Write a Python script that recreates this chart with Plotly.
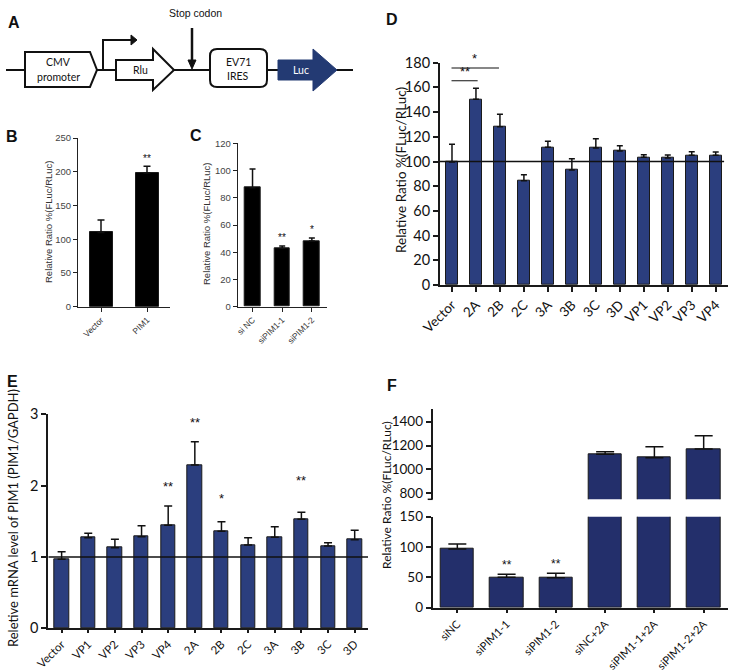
import plotly.graph_objects as go

W, H = 736, 671

def px(x):
    return x / W

def py(y):
    return 1 - y / H

def dom_x(a, b):
    return [px(a), px(b)]

def dom_y(top, bottom):
    return [py(bottom), py(top)]

def path(points, close=True):
    s = "M " + " L ".join(f"{px(x):.5f},{py(y):.5f}" for x, y in points)
    return s + (" Z" if close else "")

# ---------------- data ----------------
b_cats = ["Vector", "PIM1"]
b_vals = [110, 198]
b_err = [18.5, 10]

c_cats = ["si NC", "siPIM1-1", "siPIM1-2"]
c_vals = [87.4, 42.9, 48.3]
c_err = [13.8, 1.7, 2.2]

d_cats = ["Vector", "2A", "2B", "2C", "3A", "3B", "3C", "3D", "VP1", "VP2", "VP3", "VP4"]
d_vals = [99.6, 150.4, 128.2, 84.5, 111.5, 93.1, 110.9, 108.5, 103.4, 102.8, 105.0, 105.0]
d_err = [14.3, 8.9, 10.0, 4.8, 4.8, 9.2, 7.6, 4.3, 2.1, 2.5, 2.9, 2.7]

e_cats = ["Vector", "VP1", "VP2", "VP3", "VP4", "2A", "2B", "2C", "3A", "3B", "3C", "3D"]
e_vals = [0.967, 1.27, 1.13, 1.284, 1.444, 2.29, 1.36, 1.168, 1.276, 1.528, 1.154, 1.242]
e_err = [0.107, 0.062, 0.118, 0.155, 0.271, 0.326, 0.135, 0.102, 0.149, 0.098, 0.046, 0.132]
e_stars = {"VP4": "**", "2A": "**", "2B": "*", "3B": "**"}
e_star_y = {"VP4": 1.86, "2A": 2.75, "2B": 1.69, "3B": 1.94}

f_cats = ["siNC", "siPIM1-1", "siPIM1-2", "siNC+2A", "siPIM1-1+2A", "siPIM1-2+2A"]
f_vals = [96.8, 50.1, 49.5, 1127, 1098, 1171]
f_err = [8.2, 4.9, 7.2, 21.6, 92.5, 111.7]

NAVY = "#2b3e7e"
NAVY_F = "#232f6b"

fig = go.Figure()

def bar(cats, vals, errs, xa, ya, color, width, cap, thick=1.5, lw=1):
    fig.add_trace(go.Bar(
        x=cats, y=vals, xaxis=xa, yaxis=ya, width=width,
        marker=dict(color=color, line=dict(color="#1a1a1a", width=lw)),
        error_y=dict(type="data", array=errs, arrayminus=[0] * len(errs), symmetric=False,
                     color="#111", thickness=thick, width=cap),
        showlegend=False, hoverinfo="skip"))

bar(b_cats, b_vals, b_err, "x", "y", "#000000", 0.5, 3.5)
bar(c_cats, c_vals, c_err, "x2", "y2", "#000000", 0.52, 3)
bar(d_cats, d_vals, d_err, "x3", "y3", NAVY, 0.49, 3)
bar(e_cats, e_vals, e_err, "x4", "y4", NAVY, 0.54, 4)
bar(f_cats, f_vals, f_err, "x5", "y5", NAVY_F, 0.675, 9)
big = [v if v > 700 else None for v in f_vals]
bar(f_cats, big, f_err, "x6", "y6", NAVY_F, 0.675, 9)

ARIAL = "Liberation Sans, Arial"
LATO = "Lato, Open Sans, sans-serif"

def small_axes(dx, dy, rng, dtick, cats):
    xa = dict(domain=dx, type="category", categoryarray=cats, categoryorder="array", automargin=False,
              range=[-0.5, len(cats) - 0.5], showline=True, linecolor="#222", linewidth=1,
              ticks="outside", ticklen=4, tickcolor="#222", tickangle=-45,
              tickfont=dict(family=ARIAL, size=8.5, color="#333"), showgrid=False, zeroline=False,
              fixedrange=True)
    ya = dict(domain=dy, range=rng, dtick=dtick, showline=True, linecolor="#222", linewidth=1,
              automargin=False,
              ticks="outside", ticklen=4, tickcolor="#222",
              tickfont=dict(family=ARIAL, size=9.5, color="#444"), showgrid=False, zeroline=False,
              fixedrange=True)
    return xa, ya

xb, yb = small_axes(dom_x(78, 170), dom_y(138, 306.7), [0, 250], 50, b_cats)
xc, yc = small_axes(dom_x(237.7, 326.7), dom_y(143.3, 306.7), [0, 120], 20, c_cats)
yb["anchor"] = "x"; xb["anchor"] = "y"
yc["anchor"] = "x2"; xc["anchor"] = "y2"

def big_axes(dx, dy, rng, dtick, cats, xfs, yfs):
    xa = dict(domain=dx, type="category", categoryarray=cats, categoryorder="array", automargin=False,
              range=[-0.5, len(cats) - 0.5], showline=True, linecolor="#1a1a1a", linewidth=1.5,
              ticks="outside", ticklen=5, tickwidth=1.5, tickcolor="#1a1a1a", tickangle=-45,
              tickfont=dict(family=LATO, size=xfs, color="#111"), showgrid=False, zeroline=False,
              fixedrange=True)
    ya = dict(domain=dy, range=rng, dtick=dtick, showline=True, linecolor="#1a1a1a", linewidth=2,
              automargin=False,
              ticks="outside", ticklen=5, tickwidth=1.5, tickcolor="#1a1a1a",
              tickfont=dict(family=LATO, size=yfs, color="#111"), showgrid=False, zeroline=False,
              fixedrange=True)
    return xa, ya

xd, yd = big_axes(dom_x(440, 727.7), dom_y(62.7, 285), [0, 180], 20, d_cats, 13.5, 14.5)
xd["anchor"] = "y3"; yd["anchor"] = "x3"
xe, ye = big_axes(dom_x(48.3, 368), dom_y(414.3, 628.3), [0, 3], 1, e_cats, 11.5, 14.5)
xe["anchor"] = "y4"; ye["anchor"] = "x4"
xe["ticklen"] = 3
xf, yf = big_axes(dom_x(432.7, 728.3), dom_y(516.7, 607.7), [0, 150], 50, f_cats, 11, 13.5)
xf["anchor"] = "y5"; yf["anchor"] = "x5"
xf["ticklen"] = 4
xf2, yf2 = big_axes(dom_x(432.7, 728.3), dom_y(409.3, 499.3), [750, 1504], 200, f_cats, 11, 13.5)
xf2.update(anchor="y6", visible=False)
yf2.update(anchor="x6", tickvals=[800, 1000, 1200, 1400])

fig.update_layout(
    width=W, height=H, autosize=False,
    margin=dict(l=0, r=0, t=0, b=0, autoexpand=False),
    paper_bgcolor="white", plot_bgcolor="rgba(0,0,0,0)",
    bargap=0,
    xaxis=xb, yaxis=yb, xaxis2=xc, yaxis2=yc, xaxis3=xd, yaxis3=yd,
    xaxis4=xe, yaxis4=ye, xaxis5=xf, yaxis5=yf, xaxis6=xf2, yaxis6=yf2,
)

shapes = []
# ---------- Panel A diagram ----------
shapes.append(dict(type="line", xref="paper", yref="paper", x0=px(6), x1=px(353), y0=py(70), y1=py(70),
                   line=dict(color="#111", width=2)))
shapes.append(dict(type="path", xref="paper", yref="paper",
                   path=path([(25, 52), (90, 52), (97, 70), (90, 87), (25, 87)]),
                   fillcolor="white", line=dict(color="#111", width=2)))
shapes.append(dict(type="path", xref="paper", yref="paper",
                   path=path([(103, 70), (103, 40), (131, 40)], close=False),
                   line=dict(color="#111", width=2)))
shapes.append(dict(type="path", xref="paper", yref="paper",
                   path=path([(131, 35), (137, 40), (131, 45)]),
                   fillcolor="#111", line=dict(color="#111", width=1)))
shapes.append(dict(type="path", xref="paper", yref="paper",
                   path=path([(116, 60), (153, 60), (153, 49), (174, 70), (153, 90), (153, 80), (116, 80)]),
                   fillcolor="white", line=dict(color="#111", width=2)))
shapes.append(dict(type="line", xref="paper", yref="paper", x0=px(192), x1=px(192), y0=py(28), y1=py(62),
                   line=dict(color="#111", width=2.5)))
shapes.append(dict(type="path", xref="paper", yref="paper",
                   path=path([(188, 60), (196, 60), (192, 69)]),
                   fillcolor="#111", line=dict(color="#111", width=1)))
# rounded rect EV71 IRES
x0, x1, y0, y1, r = 210, 267, 49, 87, 7
rr = (f"M {px(x0 + r):.5f},{py(y0):.5f} L {px(x1 - r):.5f},{py(y0):.5f} "
      f"Q {px(x1):.5f},{py(y0):.5f} {px(x1):.5f},{py(y0 + r):.5f} "
      f"L {px(x1):.5f},{py(y1 - r):.5f} Q {px(x1):.5f},{py(y1):.5f} {px(x1 - r):.5f},{py(y1):.5f} "
      f"L {px(x0 + r):.5f},{py(y1):.5f} Q {px(x0):.5f},{py(y1):.5f} {px(x0):.5f},{py(y1 - r):.5f} "
      f"L {px(x0):.5f},{py(y0 + r):.5f} Q {px(x0):.5f},{py(y0):.5f} {px(x0 + r):.5f},{py(y0):.5f} Z")
shapes.append(dict(type="path", xref="paper", yref="paper", path=rr,
                   fillcolor="white", line=dict(color="#111", width=2)))
shapes.append(dict(type="path", xref="paper", yref="paper",
                   path=path([(278, 60), (313, 60), (313, 49), (337, 70), (313, 91), (313, 80), (278, 80)]),
                   fillcolor="#233a73", line=dict(color="#233a73", width=1)))

# ---------- reference lines ----------
shapes.append(dict(type="line", xref="x3", yref="y3", x0=-0.5, x1=11.35, y0=100, y1=100,
                   line=dict(color="#111", width=1.5)))
shapes.append(dict(type="line", xref="x4", yref="y4", x0=-0.5, x1=11.55, y0=1, y1=1,
                   line=dict(color="#111", width=1.5)))
# significance brackets D
shapes.append(dict(type="line", xref="x3", yref="y3", x0=-0.02, x1=1.07, y0=165.4, y1=165.4,
                   line=dict(color="#111", width=1.2)))
shapes.append(dict(type="line", xref="x3", yref="y3", x0=-0.02, x1=1.96, y0=175.7, y1=175.7,
                   line=dict(color="#111", width=1.2)))
# break tick F
shapes.append(dict(type="line", xref="paper", yref="paper", x0=px(427.7), x1=px(432.7), y0=py(499.3), y1=py(499.3),
                   line=dict(color="#111", width=1.5)))

annotations = []

def txt(x, y, s, size, family=ARIAL, color="#111", bold=False, angle=0, xanchor="center", yanchor="middle"):
    if bold:
        s = "<b>" + s + "</b>"
    annotations.append(dict(x=px(x), y=py(y), xref="paper", yref="paper", text=s, showarrow=False,
                            font=dict(size=size, family=family, color=color), textangle=angle,
                            xanchor=xanchor, yanchor=yanchor))

# panel letters
txt(14, 22, "A", 16, bold=True)
txt(12, 137, "B", 16, bold=True)
txt(196, 135, "C", 16, bold=True)
txt(392, 20, "D", 16, bold=True)
txt(12, 381, "E", 16, bold=True)
txt(392, 385, "F", 16, bold=True)

# diagram texts
txt(195, 13, "Stop codon", 10.5)
txt(58, 62, "CMV", 10.5, family=LATO)
txt(58, 77, "promoter", 10.5, family=LATO)
txt(140, 70, "Rlu", 10.5, family=LATO)
txt(238, 62, "EV71", 10.5, family=LATO)
txt(238, 76, "IRES", 10.5, family=LATO)
txt(301, 70, "Luc", 10.5, family=LATO, color="white")

# y titles
txt(49, 222, "Relative Ratio %(FLuc/RLuc)", 9.5, color="#333", angle=-90)
txt(206, 224, "Relative Ratio %(FLuc/RLuc)", 9.5, color="#333", angle=-90)
txt(401, 170, "Relative Ratio %(FLuc/RLuc)", 13.5, family=LATO, angle=-90)
txt(13, 518, "Reletive mRNA level of PIM1 (PIM1/GAPDH)", 13, family=LATO, angle=-90)
txt(386, 495, "Relative Ratio %(FLuc/RLuc)", 12, family=LATO, angle=-90)

def star(xa, ya, cat, yv, s, size):
    annotations.append(dict(x=cat, y=yv, xref=xa, yref=ya, text=s, showarrow=False,
                            font=dict(size=size, family=ARIAL, color="#111"), yanchor="bottom"))

star("x", "y", "PIM1", 208, "**", 10)
star("x2", "y2", "siPIM1-1", 45, "**", 10)
star("x2", "y2", "siPIM1-2", 51, "*", 10)
for k, s in e_stars.items():
    star("x4", "y4", k, e_star_y[k], s, 13)
star("x5", "y5", "siPIM1-1", 56, "**", 12)
star("x5", "y5", "siPIM1-2", 57.5, "**", 12)
annotations.append(dict(x=0.55, y=165.4, xref="x3", yref="y3", text="**", showarrow=False,
                        font=dict(size=13, family=ARIAL, color="#111"), yanchor="bottom"))
annotations.append(dict(x=0.95, y=175.7, xref="x3", yref="y3", text="*", showarrow=False,
                        font=dict(size=13, family=ARIAL, color="#111"), yanchor="bottom"))

fig.update_layout(shapes=shapes, annotations=annotations)
fig.write_html("out.html", config={"displayModeBar": False},
               post_script="document.body.style.margin='0';document.body.style.padding='0';")
